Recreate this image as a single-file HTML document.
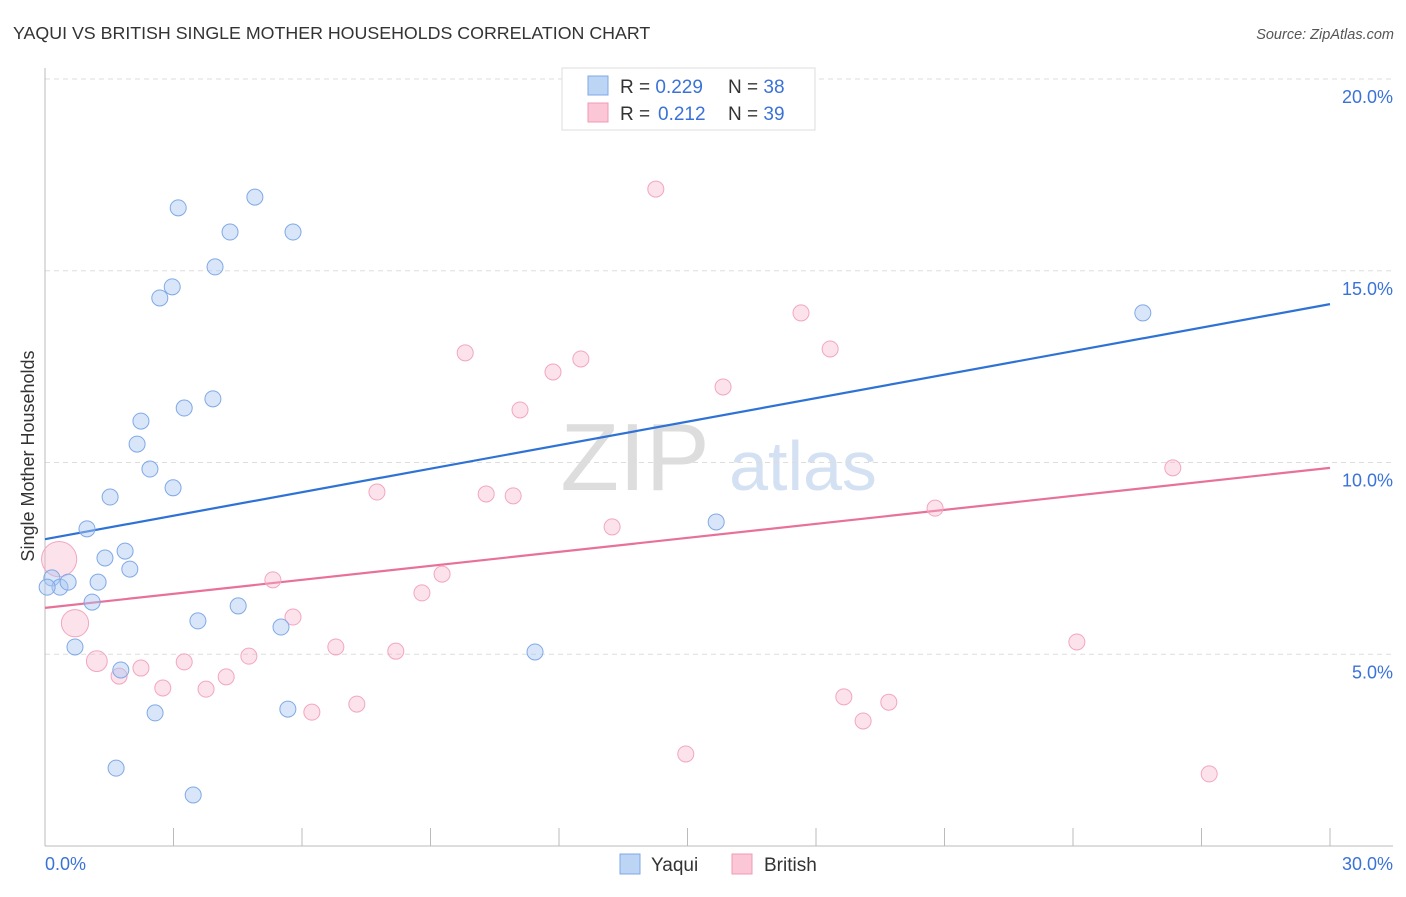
<!DOCTYPE html>
<html><head><meta charset="utf-8"><style>
body{margin:0;background:#fff;font-family:"Liberation Sans",sans-serif;}
svg text{font-family:"Liberation Sans",sans-serif;}
</style></head><body>
<svg id="chart" width="1406" height="892" xmlns="http://www.w3.org/2000/svg">
<text x="13" y="39" font-size="17.8" fill="#333">YAQUI VS BRITISH SINGLE MOTHER HOUSEHOLDS CORRELATION CHART</text>
<text x="1394" y="39" font-size="14.5" fill="#555" font-style="italic" text-anchor="end">Source: ZipAtlas.com</text>
<text x="0" y="0" font-size="18" fill="#333" text-anchor="middle" transform="translate(34,456) rotate(-90)">Single Mother Households</text>
<g><text x="635" y="490" font-size="96" fill="#ddd" font-family="Liberation Serif" text-anchor="middle">ZIP</text><text x="803" y="490" font-size="70" fill="#d3e1f3" text-anchor="middle">atlas</text></g>
<g id="grid"></g><g id="axes"></g><g id="lines"></g><g id="pts"></g>
<g>
<rect x="562" y="68" width="253" height="62" fill="#fff" stroke="#ddd"/>
<rect x="588" y="76" width="20" height="19" fill="#bcd5f5" stroke="#7fa9e6"/>
<rect x="588" y="103" width="20" height="19" fill="#fbc6d6" stroke="#f09ab5"/>
<text x="620" y="93" font-size="19" fill="#333">R = <tspan fill="#3a72d8">0.229</tspan><tspan x="728">N = </tspan><tspan fill="#3a72d8">38</tspan></text>
<text x="620" y="120" font-size="19" fill="#333">R = <tspan fill="#3a72d8" x="658">0.212</tspan><tspan x="728">N = </tspan><tspan fill="#3a72d8">39</tspan></text>
</g>
<g>
<rect x="620" y="854" width="20" height="20" fill="#bcd5f5" stroke="#7fa9e6"/>
<text x="651" y="871" font-size="19" fill="#333">Yaqui</text>
<rect x="732" y="854" width="20" height="20" fill="#fbc6d6" stroke="#f09ab5"/>
<text x="764" y="871" font-size="19" fill="#333">British</text>
</g>
</svg>
<script>
const yTicks=[5,10,15,20];
const yTickLabels=["5.0%","10.0%","15.0%","20.0%"];
const xLabels=["0.0%","30.0%"];
const yaquiX=[3.11,4.90,4.32,5.79,3.97,2.97,2.68,2.24,3.25,3.92,2.15,2.45,2.99,1.52,0.98,1.87,1.40,1.98,0.16,0.35,0.05,0.54,1.24,1.10,4.51,3.57,5.51,0.70,11.44,1.77,2.57,5.67,1.66,3.46,15.67,25.63];
const yaquiY=[16.64,16.92,16.01,16.01,15.10,14.58,14.29,11.08,11.42,11.66,10.48,9.83,9.34,9.10,8.27,7.69,7.51,7.22,6.99,6.75,6.75,6.88,6.88,6.36,6.26,5.87,5.71,5.19,5.06,4.59,3.47,3.57,2.03,1.33,8.45,13.90];
const britishX=[14.26,17.65,18.33,9.81,12.51,11.86,15.83,11.09,7.75,10.30,10.93,13.24,20.78,26.33,0.33,5.32,9.27,8.80,5.79,0.70,6.79,8.19,4.76,1.21,2.24,3.25,1.73,4.23,2.75,3.76,7.28,6.23,18.65,19.70,19.10,14.96,24.09,27.18];
const britishY=[17.13,13.90,12.96,12.86,12.70,12.36,11.97,11.37,9.23,9.18,9.13,8.32,8.81,9.86,7.48,6.94,7.09,6.60,5.97,5.81,5.19,5.08,4.95,4.82,4.64,4.80,4.43,4.41,4.12,4.09,3.70,3.49,3.89,3.75,3.26,2.40,5.32,1.88];
const britishWeight=[1,1,1,1,1,1,1,1,1,1,1,1,1,1,2.2,1,1,1,1,1.7,1,1,1,1.3,1,1,1,1,1,1,1,1,1,1,1,1,1,1];
const yaquiTrend=[8.0,14.13];
const britishTrend=[6.21,9.86];
const NS="http://www.w3.org/2000/svg";
const X0=45,X1=1330,YB=846,PPU=38.35;
function sx(v){return X0+(X1-X0)*v/30;}
function sy(v){return YB-v*PPU;}
function mk(tag,attrs,parent){const e=document.createElementNS(NS,tag);for(const k in attrs)e.setAttribute(k,attrs[k]);document.getElementById(parent).appendChild(e);return e;}
yTicks.forEach((t,i)=>{
 const l=mk('line',{x1:X0,x2:1393,y1:sy(t),y2:sy(t),stroke:'#ddd','stroke-dasharray':'5,4'},'grid');
 
 
 const tx=mk('text',{x:1393,y:sy(t)+24,'font-size':18,fill:'#3a72d8','text-anchor':'end'},'axes');
 tx.textContent=yTickLabels[i];
 
 
});
const ya=mk('line',{x1:X0,x2:X0,y1:68,y2:YB,stroke:'#bbb'},'axes');


const xa=mk('line',{x1:X0,x2:1393,y1:YB,y2:YB,stroke:'#bbb'},'axes');


for(let i=1;i<=10;i++){
 const t=mk('line',{x1:sx(i*3),x2:sx(i*3),y1:828,y2:YB,stroke:'#bbb'},'axes');
 
 
}
[[X0,'start',0],[1393,'end',1]].forEach(([x,a,i])=>{
 const t=mk('text',{x:x,y:870,'font-size':18,fill:'#3a72d8','text-anchor':a},'axes');
 t.textContent=xLabels[i];
 
 
});
const bl=mk('line',{x1:sx(0),y1:sy(yaquiTrend[0]),x2:sx(30),y2:sy(yaquiTrend[1]),stroke:'#2f72d6','stroke-width':2.2},'lines');


const pl=mk('line',{x1:sx(0),y1:sy(britishTrend[0]),x2:sx(30),y2:sy(britishTrend[1]),stroke:'#e8719a','stroke-width':2.2},'lines');


britishX.forEach((v,i)=>{
 const c=mk('circle',{cx:sx(v),cy:sy(britishY[i]),r:8*britishWeight[i],fill:'rgba(248,180,202,0.38)',stroke:'#f3a6bf','stroke-width':1},'pts');
 
 
});
yaquiX.forEach((v,i)=>{
 const c=mk('circle',{cx:sx(v),cy:sy(yaquiY[i]),r:8,fill:'rgba(170,200,242,0.45)',stroke:'#7fa9e6','stroke-width':1},'pts');
 
 
});
</script>
</body></html>
